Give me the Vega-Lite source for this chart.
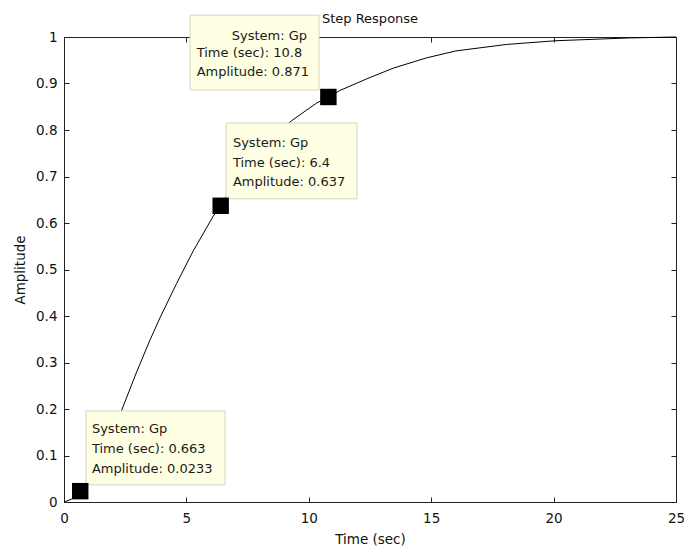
{
  "$schema": "https://vega.github.io/schema/vega-lite/v6.json",
  "width": 612,
  "height": 465,
  "autosize": {"type": "none"},
  "padding": {"left": 64, "top": 37, "right": 8, "bottom": 48},
  "background": "white",
  "title": {"text": "Step Response", "font": "DejaVu Sans", "fontSize": 13, "fontWeight": "normal", "color": "#111", "anchor": "middle", "baseline": "alphabetic", "offset": 14, "dy": 35},
  "config": {
    "view": {"stroke": null},
    "axis": {"grid": false, "domainColor": "#222", "tickColor": "#222", "labelFont": "DejaVu Sans", "labelFontSize": 13.5, "labelColor": "#111", "titleFont": "DejaVu Sans", "titleFontSize": 13.5, "titleFontWeight": "normal", "titleColor": "#111", "zindex": 1}
  },
  "datasets": {
    "curve": [
      {"t": 0, "amp": 0},
      {"t": 0.3, "amp": 0.006},
      {"t": 0.663, "amp": 0.0233},
      {"t": 1.0, "amp": 0.045},
      {"t": 1.5, "amp": 0.09},
      {"t": 2.0, "amp": 0.15},
      {"t": 2.36, "amp": 0.198},
      {"t": 2.97, "amp": 0.28},
      {"t": 3.51, "amp": 0.348},
      {"t": 3.92, "amp": 0.396},
      {"t": 4.6, "amp": 0.47},
      {"t": 5.28, "amp": 0.54},
      {"t": 6.1, "amp": 0.615},
      {"t": 6.4, "amp": 0.637},
      {"t": 7.0, "amp": 0.69},
      {"t": 8.0, "amp": 0.762},
      {"t": 9.3, "amp": 0.82},
      {"t": 10.32, "amp": 0.858},
      {"t": 10.8, "amp": 0.871},
      {"t": 11.27, "amp": 0.885},
      {"t": 12.37, "amp": 0.91},
      {"t": 13.45, "amp": 0.933},
      {"t": 14.8, "amp": 0.955},
      {"t": 16.0, "amp": 0.97},
      {"t": 18.08, "amp": 0.984},
      {"t": 20.1, "amp": 0.992},
      {"t": 23.1, "amp": 0.998},
      {"t": 25, "amp": 1.0}
    ],
    "marks": [
      {"t": 0.663, "amp": 0.0233},
      {"t": 6.4, "amp": 0.637},
      {"t": 10.8, "amp": 0.871}
    ],
    "boxes": [
      {"t1": 5.15, "t2": 10.42, "a1": 0.886, "a2": 1.047},
      {"t1": 6.62, "t2": 11.97, "a1": 0.652, "a2": 0.815},
      {"t1": 0.9, "t2": 6.58, "a1": 0.037, "a2": 0.196}
    ],
    "labels": [
      {"t": 6.85, "a": 0.994, "label": "System: Gp"},
      {"t": 5.42, "a": 0.957, "label": "Time (sec): 10.8"},
      {"t": 5.42, "a": 0.916, "label": "Amplitude: 0.871"},
      {"t": 6.9, "a": 0.764, "label": "System: Gp"},
      {"t": 6.9, "a": 0.721, "label": "Time (sec): 6.4"},
      {"t": 6.9, "a": 0.68, "label": "Amplitude: 0.637"},
      {"t": 1.14, "a": 0.148, "label": "System: Gp"},
      {"t": 1.14, "a": 0.105, "label": "Time (sec): 0.663"},
      {"t": 1.14, "a": 0.062, "label": "Amplitude: 0.0233"}
    ]
  },
  "resolve": {"axis": {"x": "independent", "y": "independent"}},
  "layer": [
    {
      "data": {"name": "curve"},
      "mark": {"type": "line", "color": "black", "strokeWidth": 1},
      "encoding": {
        "x": {"field": "t", "type": "quantitative", "scale": {"domain": [0, 25], "nice": false, "zero": false},
              "axis": {"orient": "bottom", "title": "Time (sec)", "values": [0, 5, 10, 15, 20, 25], "tickSize": -5, "labelPadding": 14, "titlePadding": 8, "format": "~g", "labelFlush": false}},
        "y": {"field": "amp", "type": "quantitative", "scale": {"domain": [0, 1], "nice": false, "zero": false},
              "axis": {"orient": "left", "title": "Amplitude", "values": [0, 0.1, 0.2, 0.3, 0.4, 0.5, 0.6, 0.7, 0.8, 0.9, 1], "tickSize": -5, "labelPadding": 12, "titlePadding": 8, "format": "~g", "labelFlush": false}}
      }
    },
    {
      "data": {"name": "boxes"},
      "mark": {"type": "rect", "fill": "#ffffe3", "stroke": "#d6d6c6", "strokeWidth": 1},
      "encoding": {
        "x": {"field": "t1", "type": "quantitative", "axis": {"orient": "top", "title": null, "labels": false, "values": [0, 5, 10, 15, 20, 25], "tickSize": -5}},
        "x2": {"field": "t2"},
        "y": {"field": "a1", "type": "quantitative", "axis": {"orient": "right", "title": null, "labels": false, "values": [0, 0.1, 0.2, 0.3, 0.4, 0.5, 0.6, 0.7, 0.8, 0.9, 1], "tickSize": -5}},
        "y2": {"field": "a2"}
      }
    },
    {
      "data": {"name": "marks"},
      "mark": {"type": "point", "shape": "square", "filled": true, "color": "black", "size": 270, "opacity": 1},
      "encoding": {
        "x": {"field": "t", "type": "quantitative", "axis": null},
        "y": {"field": "amp", "type": "quantitative", "axis": null}
      }
    },
    {
      "data": {"name": "labels"},
      "mark": {"type": "text", "align": "left", "baseline": "alphabetic", "font": "DejaVu Sans", "fontSize": 13, "color": "#1a1a1a"},
      "encoding": {
        "x": {"field": "t", "type": "quantitative", "axis": null},
        "y": {"field": "a", "type": "quantitative", "axis": null},
        "text": {"field": "label"}
      }
    }
  ]
}
